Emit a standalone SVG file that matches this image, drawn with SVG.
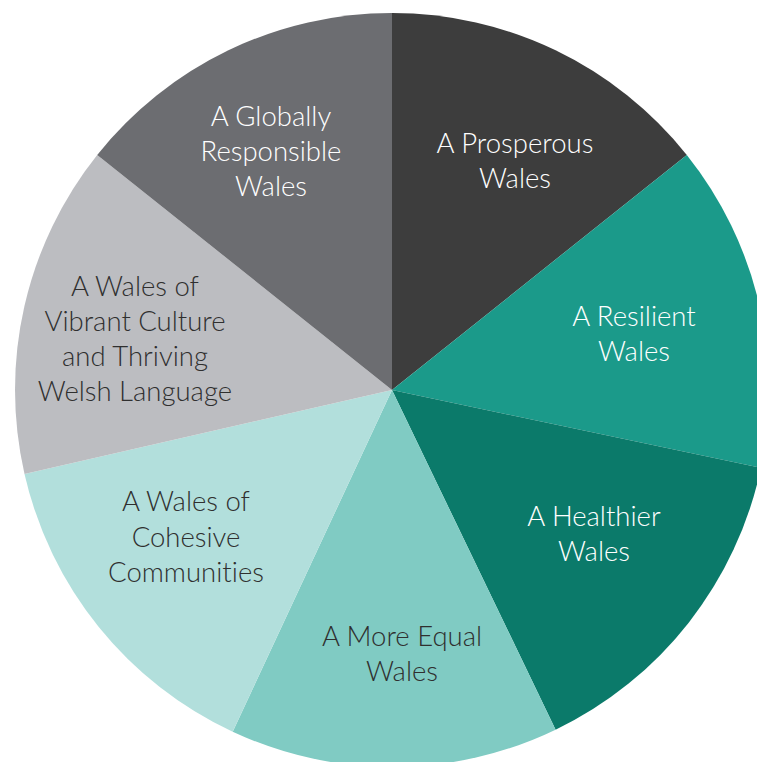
<svg xmlns="http://www.w3.org/2000/svg" width="757" height="762" viewBox="0 0 757 762">
<style>
text{font-family:Lato,"Open Sans","Liberation Sans",sans-serif;font-size:27.5px;font-weight:300;text-anchor:middle;font-variant-ligatures:none;font-feature-settings:"liga" 0}
.w{fill:#ffffff}
.d{fill:#2f2f2f}
</style>
<rect width="757" height="762" fill="#ffffff"/>
<g id="prosperous">
<path d="M392,390 L392,13 A377,377 0 0 1 686.8,154.9 Z" fill="#3d3d3d"/>
<text class="w" x="515" y="153">A Prosperous</text>
<text class="w" x="515" y="188">Wales</text>
</g>
<g id="resilient">
<path d="M392,390 L686.8,154.9 A377,377 0 0 1 760.9,467.8 Z" fill="#1b9a8a"/>
<text class="w" x="634" y="326">A Resilient</text>
<text class="w" x="634" y="361">Wales</text>
</g>
<g id="healthier">
<path d="M392,390 L760.9,467.8 A377,377 0 0 1 555.6,729.7 Z" fill="#0b7a6a"/>
<text class="w" x="594" y="526">A Healthier</text>
<text class="w" x="594" y="561">Wales</text>
</g>
<g id="more-equal">
<path d="M392,390 L555.6,729.7 A377,377 0 0 1 232.7,731.7 Z" fill="#80cbc3"/>
<text class="d" x="402" y="646">A More Equal</text>
<text class="d" x="402" y="681">Wales</text>
</g>
<g id="cohesive">
<path d="M392,390 L232.7,731.7 A377,377 0 0 1 24.5,473.9 Z" fill="#b2dfdc"/>
<text class="d" x="186" y="511">A Wales of</text>
<text class="d" x="186" y="547">Cohesive</text>
<text class="d" x="186" y="582">Communities</text>
</g>
<g id="culture">
<path d="M392,390 L24.5,473.9 A377,377 0 0 1 97.2,154.9 Z" fill="#bcbdc1"/>
<text class="d" x="135" y="296">A Wales of</text>
<text class="d" x="135" y="331">Vibrant Culture</text>
<text class="d" x="135" y="366">and Thriving</text>
<text class="d" x="135" y="401">Welsh Language</text>
</g>
<g id="globally-responsible">
<path d="M392,390 L97.2,154.9 A377,377 0 0 1 392,13 Z" fill="#6c6d71"/>
<text class="w" x="271" y="126">A Globally</text>
<text class="w" x="271" y="161">Responsible</text>
<text class="w" x="271" y="196">Wales</text>
</g>
<g id="connectors"/>
</svg>
